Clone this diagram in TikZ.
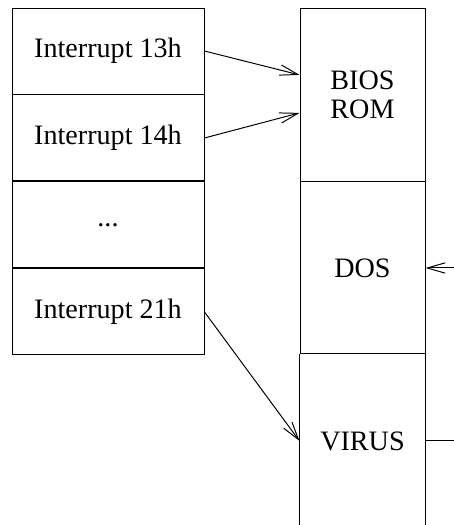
\documentclass[tikz,border=0pt]{standalone}
\usepackage{fontspec}
\setmainfont{Liberation Serif}
\usetikzlibrary{arrows.meta, positioning}

\begin{document}
\begin{tikzpicture}[>={Straight Barb[length=4.5mm,width=2.6mm]}, line width=0.7pt,
        every node/.style={font=\fontsize{20}{20.5}\selectfont},
        vector/.style={draw, rectangle, minimum width=4.8cm, minimum height=2.15cm, inner sep=0pt},
        memblock/.style={draw, rectangle, minimum width=3.125cm, minimum height=4.3cm, inner sep=0pt, align=center}]
        \useasboundingbox (0,0) rectangle (11.35,-13.125);

        % Interrupt vector table
        \node[vector] (int13) at (2.7,-1.275) {Interrupt 13h};
        \node[vector, below=0pt of int13] (int14) {Interrupt 14h};
        \node[vector, below=0pt of int14] (dots) {...};
        \node[vector, below=0pt of dots] (int21) {Interrupt 21h};

        % Memory blocks
        \node[memblock, minimum height=4.325cm] (bios) at (9.0625,-2.3625) {BIOS\\ROM};
        \node[memblock, below=0pt of bios] (dos) {DOS};
        \node[memblock, draw=none, below=0pt of dos] (virus) {VIRUS};
        \draw (virus.north west) -- (virus.south west);
        \draw (virus.north east) -- (virus.south east);

        % Vectors
        \draw[->] (int13.east) -- ([yshift=0.49cm]bios.west);
        \draw[->] (int14.east) -- ([yshift=-0.46cm]bios.west);
        \draw[->] (int21.east) -- (virus.west);

        % Outside links
        \coordinate[right=0.75cm of dos.east] (dosin);
        \coordinate[right=0.75cm of virus.east] (virusout);
        \draw[->] (dosin) -- (dos.east);
        \draw (virus.east) -- (virusout);
    \end{tikzpicture}
\end{document}
